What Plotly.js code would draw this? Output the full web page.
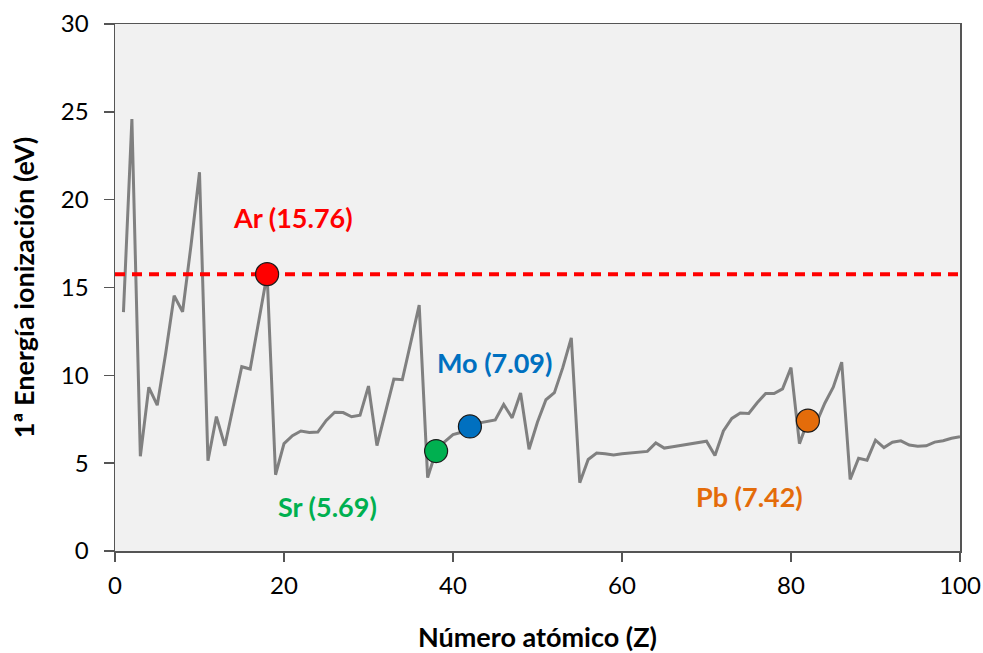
<!DOCTYPE html>
<html>
<head>
<meta charset="utf-8">
<script src="https://cdn.plot.ly/plotly-3.0.1.min.js"></script>
<style>
  html, body { margin: 0; padding: 0; background: #ffffff; }
  #chart { width: 983px; height: 653px; }
</style>
</head>
<body>
<div id="chart"></div>
<script>
// First ionization energy (eV) for Z = 1..100
const atomicNumbers = Array.from({length: 100}, (_, i) => i + 1);
const ionizationEnergy = [
  13.60, 24.59, 5.39, 9.32, 8.30, 11.26, 14.53, 13.62, 17.42, 21.56,
  5.14, 7.65, 5.99, 8.15, 10.49, 10.36, 12.97, 15.76, 4.34, 6.11,
  6.56, 6.83, 6.75, 6.77, 7.43, 7.90, 7.88, 7.64, 7.73, 9.39,
  6.00, 7.90, 9.79, 9.75, 11.81, 14.00, 4.18, 5.69, 6.22, 6.63,
  6.76, 7.09, 7.28, 7.36, 7.46, 8.34, 7.58, 8.99, 5.79, 7.34,
  8.61, 9.01, 10.45, 12.13, 3.89, 5.21, 5.58, 5.54, 5.47, 5.53,
  5.58, 5.64, 5.67, 6.15, 5.86, 5.94, 6.02, 6.11, 6.18, 6.25,
  5.43, 6.83, 7.55, 7.86, 7.83, 8.44, 8.97, 8.96, 9.23, 10.44,
  6.11, 7.42, 7.29, 8.41, 9.32, 10.75, 4.07, 5.28, 5.17, 6.31,
  5.89, 6.19, 6.27, 6.03, 5.97, 5.99, 6.20, 6.28, 6.42, 6.50
];

// Highlighted elements
const hlSymbols = ['Ar', 'Sr', 'Mo', 'Pb'];
const hlZ = [18, 38, 42, 82];
const hlEnergy = [15.76, 5.69, 7.09, 7.42];
const hlColors = ['#ff0000', '#00b050', '#0070c0', '#e46c0a'];
// Label anchor positions in data units
const hlLabelX = [21.1, 25.1, 44.9, 75.1];
const hlLabelY = [18.97, 2.53, 10.72, 3.1];

const argonLevel = 15.76;

const fontFamily = 'Lato, "Open Sans", "DejaVu Sans", sans-serif';

const traces = [
  {
    x: atomicNumbers,
    y: ionizationEnergy,
    type: 'scatter',
    mode: 'lines',
    line: {color: '#808080', width: 3},
    showlegend: false
  },
  {
    x: [0, 100],
    y: [argonLevel, argonLevel],
    type: 'scatter',
    mode: 'lines',
    line: {color: '#ff0000', width: 4, dash: '10px,7px'},
    showlegend: false
  },
  {
    x: hlZ,
    y: hlEnergy,
    type: 'scatter',
    mode: 'markers',
    marker: {size: 23, color: hlColors, line: {color: '#1a1a1a', width: 1.2}},
    showlegend: false
  }
];

const annotations = hlSymbols.map((s, i) => ({
  x: hlLabelX[i],
  y: hlLabelY[i],
  xref: 'x',
  yref: 'y',
  text: '<b>' + s + ' (' + hlEnergy[i].toFixed(2) + ')</b>',
  showarrow: false,
  font: {family: fontFamily, size: 27, color: hlColors[i]},
  xanchor: 'center',
  yanchor: 'middle'
}));

const layout = {
  width: 983,
  height: 653,
  margin: {l: 115, r: 23, t: 24, b: 102},
  paper_bgcolor: '#ffffff',
  plot_bgcolor: '#f1f1f1',
  font: {family: fontFamily, color: '#000000'},
  xaxis: {
    range: [0, 100],
    tickvals: [0, 20, 40, 60, 80, 100],
    ticks: 'outside',
    ticklen: 9,
    tickwidth: 1.5,
    tickcolor: '#555555',
    showgrid: false,
    zeroline: false,
    showline: true,
    linecolor: '#555555',
    linewidth: 1.5,
    mirror: true,
    ticklabelstandoff: 4,
    tickfont: {size: 24, family: fontFamily},
    title: {text: '<b>Número atómico (Z)</b>', font: {size: 27, family: fontFamily}, standoff: 30}
  },
  yaxis: {
    range: [0, 30],
    tickvals: [0, 5, 10, 15, 20, 25, 30],
    ticks: 'outside',
    ticklen: 10,
    tickwidth: 1.5,
    tickcolor: '#555555',
    showgrid: false,
    zeroline: false,
    showline: true,
    linecolor: '#555555',
    linewidth: 1.5,
    mirror: true,
    ticklabelstandoff: 10,
    tickfont: {size: 24, family: fontFamily},
    title: {text: '<b>1ª Energía ionización (eV)</b>', font: {size: 27, family: fontFamily}, standoff: 18}
  },
  annotations: annotations,
  showlegend: false
};

Plotly.newPlot('chart', traces, layout, {displayModeBar: false, staticPlot: true});
</script>
</body>
</html>
